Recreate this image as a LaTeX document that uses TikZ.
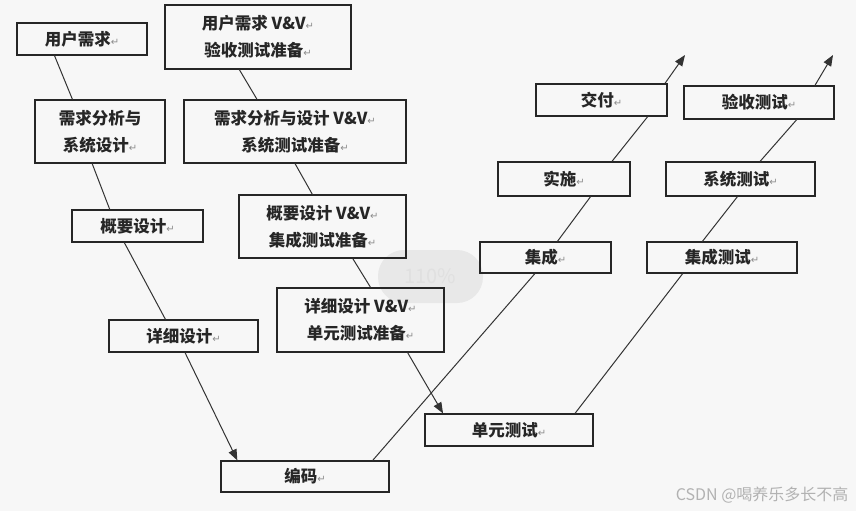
\documentclass[tikz,border=0pt]{standalone}
\usepackage{fontspec}
\setmainfont{Noto Sans CJK SC}
\newfontfamily\retfont{DejaVu Sans}
\usetikzlibrary{arrows.meta,calc}
\newcommand{\ret}{{\retfont\mdseries\color{black!45}\fontsize{10}{10}\selectfont\char"21B5}}

\begin{document}
\begin{tikzpicture}[x=1pt, y=-1pt,
  box/.style={draw=black!85, line width=1.1pt, inner sep=0pt, align=center,
    font=\fontsize{16.5}{27}\selectfont\bfseries, text=black!85},
  link/.style={black!80, line width=1pt},
  tip/.style={-{Triangle[length=11pt, width=8.5pt]}}]
\path[fill=white!97!black] (0,0) rectangle (856,511);
\fill[black!9, rounded corners=26pt] (378,250) rectangle (483,303);
\node[text=black!12, font=\fontsize{20}{20}\selectfont] (zoomtag) at (430,276) {110\%};
% left branch
\node[box, minimum width=130pt, minimum height=32pt] (req) at (82,39) {用户需求\ret};
\node[box, minimum width=130pt, minimum height=63pt] (ana) at (100,131.5) {需求分析与\\系统设计\ret};
\node[box, minimum width=131pt, minimum height=32pt] (hld) at (137.5,226) {概要设计\ret};
\node[box, minimum width=149pt, minimum height=32pt] (dd) at (183.5,336) {详细设计\ret};
\node[box, minimum width=168pt, minimum height=31pt] (code) at (305,476.5) {编码\ret};
% V&V branch
\node[box, minimum width=186pt, minimum height=64pt] (reqvv) at (258,37) {用户需求 V\&V\ret\\验收测试准备\ret};
\node[box, minimum width=222pt, minimum height=63pt] (anavv) at (295,131.5) {需求分析与设计 V\&V\ret\\系统测试准备\ret};
\node[box, minimum width=167pt, minimum height=63pt] (hldvv) at (322.5,226.5) {概要设计 V\&V\ret\\集成测试准备\ret};
\node[box, minimum width=167pt, minimum height=64pt] (ddvv) at (360.5,320) {详细设计 V\&V\ret\\单元测试准备\ret};
\node[box, minimum width=168pt, minimum height=32pt] (unit) at (509,430) {单元测试\ret};
% rising branches
\node[box, minimum width=131pt, minimum height=31pt] (integ) at (545.5,257.5) {集成\ret};
\node[box, minimum width=132pt, minimum height=34pt] (impl) at (564,179) {实施\ret};
\node[box, minimum width=131pt, minimum height=32pt] (deliv) at (601.5,100) {交付\ret};
\node[box, minimum width=150pt, minimum height=31pt] (itest) at (722,257.5) {集成测试\ret};
\node[box, minimum width=149pt, minimum height=34pt] (stest) at (740.5,179) {系统测试\ret};
\node[box, minimum width=150pt, minimum height=33pt] (atest) at (759,102.5) {验收测试\ret};
\coordinate (up1) at (685,55);
\coordinate (up2) at (833,55);
\node[anchor=east, text=black!30, font=\fontsize{16}{16}\selectfont] (mark) at (852,495) {CSDN @喝养乐多长不高};
% connectors
\draw[link] ($(req.south west)!.29!(req.south east)$) -- ($(ana.north west)!.29!(ana.north east)$);
\draw[link] ($(ana.south west)!.44!(ana.south east)$) -- ($(hld.north west)!.29!(hld.north east)$);
\draw[link] ($(hld.south west)!.40!(hld.south east)$) -- ($(dd.north west)!.38!(dd.north east)$);
\draw[link, tip] ($(dd.south west)!.51!(dd.south east)$) -- ($(code.north west)!.10!(code.north east)$);
\draw[link] ($(reqvv.south west)!.40!(reqvv.south east)$) -- ($(anavv.north west)!.33!(anavv.north east)$);
\draw[link] ($(anavv.south west)!.50!(anavv.south east)$) -- ($(hldvv.north west)!.44!(hldvv.north east)$);
\draw[link] ($(hldvv.south west)!.68!(hldvv.south east)$) -- ($(ddvv.north west)!.56!(ddvv.north east)$);
\draw[link, tip] ($(ddvv.south west)!.78!(ddvv.south east)$) -- ($(unit.north west)!.11!(unit.north east)$);
\draw[link] ($(code.north west)!.90!(code.north east)$) -- ($(integ.south west)!.42!(integ.south east)$);
\draw[link] ($(integ.north west)!.59!(integ.north east)$) -- ($(impl.south west)!.70!(impl.south east)$);
\draw[link] ($(impl.north west)!.86!(impl.north east)$) -- ($(deliv.south west)!.85!(deliv.south east)$);
\draw[link, tip] ($(deliv.north west)!.98!(deliv.north east)$) -- (up1);
\draw[link] ($(unit.north west)!.89!(unit.north east)$) -- ($(itest.south west)!.24!(itest.south east)$);
\draw[link] ($(itest.north west)!.37!(itest.north east)$) -- ($(stest.south west)!.48!(stest.south east)$);
\draw[link] ($(stest.north west)!.63!(stest.north east)$) -- ($(atest.south west)!.75!(atest.south east)$);
\draw[link, tip] ($(atest.north west)!.87!(atest.north east)$) -- (up2);
\end{tikzpicture}
\end{document}
